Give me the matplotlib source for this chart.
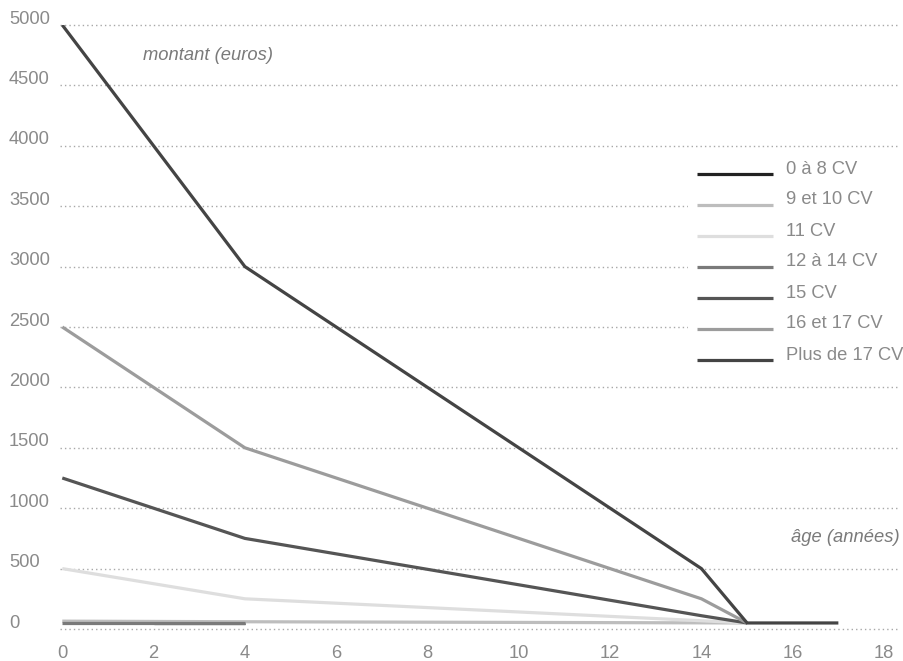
import matplotlib
matplotlib.use("Agg")
import matplotlib.pyplot as plt
from matplotlib import transforms
from matplotlib.lines import Line2D
from matplotlib.patches import Rectangle

plt.rcParams['font.family'] = ['Liberation Sans', 'DejaVu Sans']

# Amount (euros) by vehicle age (years), per fiscal horsepower band
labels = ["0 à 8 CV", "9 et 10 CV", "11 CV", "12 à 14 CV", "15 CV", "16 et 17 CV", "Plus de 17 CV"]
colors = ["#222222", "#bdbdbd", "#dedede", "#7a7a7a", "#555555", "#9c9c9c", "#444444"]

age_0_8 = [2, 4]
amt_0_8 = [50, 50]
age_9_10 = [0, 4, 15]
amt_9_10 = [65, 60, 50]
age_11 = [0, 4, 15]
amt_11 = [500, 250, 50]
age_12_14 = [0, 4]
amt_12_14 = [50, 50]
age_15 = [0, 4, 14, 15]
amt_15 = [1250, 750, 110, 50]
age_16_17 = [0, 4, 14, 15]
amt_16_17 = [2500, 1500, 250, 50]
age_17p = [0, 4, 14, 15, 17]
amt_17p = [5000, 3000, 500, 50, 50]

series = [
    (age_0_8, amt_0_8),
    (age_9_10, amt_9_10),
    (age_11, amt_11),
    (age_12_14, amt_12_14),
    (age_15, amt_15),
    (age_16_17, amt_16_17),
    (age_17p, amt_17p),
]
# drawing order: background series first, dark ones on top
draw_order = [2, 3, 1, 0, 4, 5, 6]

y_ticks = [0, 500, 1000, 1500, 2000, 2500, 3000, 3500, 4000, 4500, 5000]
x_ticks = [0, 2, 4, 6, 8, 10, 12, 14, 16, 18]

W, H = 904, 661
FS = 13.2
fig = plt.figure(figsize=(W / 100, H / 100), dpi=100)
ax = fig.add_axes([60 / W, 32 / H, (900 - 60) / W, (629 - 25) / H])
ax.set_xlim(-0.05, 18.35)
ax.set_ylim(0, 5000)
for s in ax.spines.values():
    s.set_visible(False)
ax.set_xticks([])
ax.set_yticks([])

# dotted horizontal grid
for v in y_ticks:
    ax.axhline(v, color="#a8a8a8", lw=1.0, ls=(0, (1, 2.2)), zorder=1, clip_on=False)

for i in draw_order:
    xs, ys = series[i]
    ax.plot(xs, ys, color=colors[i], lw=2.3, solid_capstyle="butt",
            solid_joinstyle="miter", zorder=3 + i, label=labels[i])

tick_color = "#8a8a8a"
ytrans = transforms.blended_transform_factory(fig.transFigure, ax.transData)
yoff = transforms.ScaledTranslation(0, 6 / 100, fig.dpi_scale_trans)
for v in y_ticks:
    ax.text(9 / W, v, str(v), transform=ytrans + yoff, ha="left", va="center",
            fontsize=FS, color=tick_color)

xtrans = transforms.blended_transform_factory(ax.transData, fig.transFigure)
for v in x_ticks:
    ax.text(v, 1 - 653 / H, str(v), transform=xtrans, ha="center", va="center",
            fontsize=FS, color=tick_color)

ax.text(143 / W, 1 - 56 / H, "montant (euros)", transform=fig.transFigure,
        ha="left", va="center", fontsize=FS, style="italic", color="#7a7a7a")
ax.text(900 / W, 1 - 537 / H, "âge (années)", transform=fig.transFigure,
        ha="right", va="center", fontsize=FS, style="italic", color="#7a7a7a")

# legend on a white panel that hides the grid behind it
fig.add_artist(Rectangle((688 / W, 1 - 378 / H), (904 - 688) / W, (378 - 154) / H,
                         transform=fig.transFigure, facecolor="white",
                         edgecolor="none", zorder=2))
for k, lab in enumerate(labels):
    y_line = 1 - (174 + 31 * k) / H
    fig.add_artist(Line2D([697 / W, 773 / W], [y_line, y_line], color=colors[k],
                          lw=2.3, solid_capstyle="butt", transform=fig.transFigure,
                          zorder=3))
    fig.text(786 / W, y_line + 5 / H, lab, ha="left", va="center",
             fontsize=FS, color=tick_color, zorder=3)

fig.savefig("out.png", dpi=100, facecolor="white")
